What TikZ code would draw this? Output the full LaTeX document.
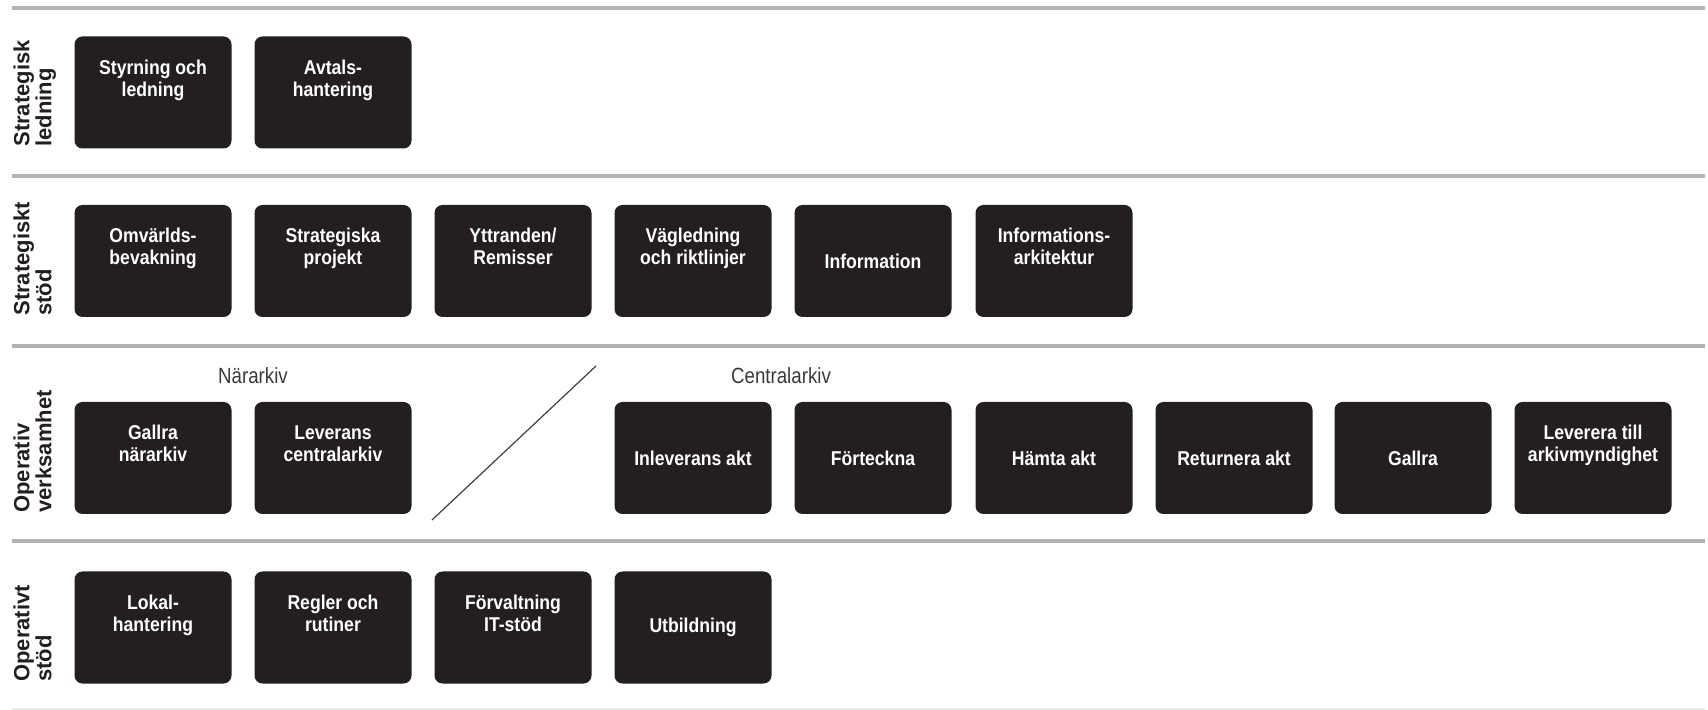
\documentclass[tikz,border=0pt]{standalone}
\usepackage{fontspec}
\newfontfamily\boxfont[FakeStretch=0.88]{Liberation Sans}
\newfontfamily\rowfont{Liberation Sans}
\newfontfamily\grpfont[FakeStretch=0.85]{Liberation Sans}
\definecolor{boxc}{HTML}{231F20}
\definecolor{sepc}{HTML}{B2B2B2}
\definecolor{sepl}{HTML}{EBEBEB}
\definecolor{txtc}{HTML}{231F20}
\definecolor{grpc}{HTML}{3A3A3A}
\tikzset{
  boxnode/.style={fill=boxc, rounded corners=4pt, minimum width=78.5pt, minimum height=56pt,
    inner sep=0pt, text=white, align=center, font=\boxfont\bfseries\fontsize{10}{11}\selectfont},
  rowlabel/.style={rotate=90, anchor=north west, align=left, inner sep=0pt, text=txtc,
    font=\rowfont\bfseries\fontsize{11}{11}\selectfont},
  grplabel/.style={text=grpc, inner sep=0pt, font=\grpfont\fontsize{11}{12}\selectfont},
  sepline/.style={draw=sepc, line width=1.7pt},
  lastline/.style={draw=sepl, line width=1.2pt},
  diagline/.style={draw=black!75, line width=0.6pt}
}
\begin{document}
\begin{tikzpicture}[x=0.5pt, y=-0.5pt]
\useasboundingbox (0,0) rectangle (1708,710);
% separator lines
\coordinate (s0a) at (12,8);   \coordinate (s0b) at (1705,8);
\coordinate (s1a) at (12,176); \coordinate (s1b) at (1705,176);
\coordinate (s2a) at (12,346); \coordinate (s2b) at (1705,346);
\coordinate (s3a) at (12,541); \coordinate (s3b) at (1705,541);
\coordinate (s4a) at (12,709); \coordinate (s4b) at (1705,709);
\draw[sepline] (s0a) -- (s0b);
\draw[sepline] (s1a) -- (s1b);
\draw[sepline] (s2a) -- (s2b);
\draw[sepline] (s3a) -- (s3b);
\draw[lastline] (s4a) -- (s4b);
% row labels
\node[rowlabel] (r1) at (13,147) {Strategisk\\ledning};
\node[rowlabel] (r2) at (13,316) {Strategiskt\\stöd};
\node[rowlabel] (r3) at (13,513) {Operativ\\verksamhet};
\node[rowlabel] (r4) at (13,682) {Operativt\\stöd};
% row 1
\node[boxnode] (b11) at (153,92.5) {Styrning och\\ledning\\\strut};
\node[boxnode] (b12) at (333,92.5) {Avtals-\\hantering\\\strut};
% row 2
\node[boxnode] (b21) at (153,261) {Omvärlds-\\bevakning\\\strut};
\node[boxnode] (b22) at (333,261) {Strategiska\\projekt\\\strut};
\node[boxnode] (b23) at (513,261) {Yttranden/\\Remisser\\\strut};
\node[boxnode] (b24) at (693,261) {Vägledning\\och riktlinjer\\\strut};
\node[boxnode] (b25) at (873,261) {Information};
\node[boxnode] (b26) at (1054,261) {Informations-\\arkitektur\\\strut};
% row 3
\node[grplabel] (g1) at (253,376) {Närarkiv};
\node[grplabel] (g2) at (781,376) {Centralarkiv};
\node[boxnode] (b31) at (153,458) {Gallra\\närarkiv\\\strut};
\node[boxnode] (b32) at (333,458) {Leverans\\centralarkiv\\\strut};
\coordinate (d1) at (432,520);
\coordinate (d2) at (596,366);
\draw[diagline] (d1) -- (d2);
\node[boxnode] (b33) at (693,458) {Inleverans akt};
\node[boxnode] (b34) at (873,458) {Förteckna};
\node[boxnode] (b35) at (1054,458) {Hämta akt};
\node[boxnode] (b36) at (1234,458) {Returnera akt};
\node[boxnode] (b37) at (1413,458) {Gallra};
\node[boxnode] (b38) at (1593,458) {Leverera till\\arkivmyndighet\\\strut};
% row 4
\node[boxnode] (b41) at (153,627.5) {Lokal-\\hantering\\\strut};
\node[boxnode] (b42) at (333,627.5) {Regler och\\rutiner\\\strut};
\node[boxnode] (b43) at (513,627.5) {Förvaltning\\IT-stöd\\\strut};
\node[boxnode] (b44) at (693,627.5) {Utbildning};
\end{tikzpicture}
\end{document}
